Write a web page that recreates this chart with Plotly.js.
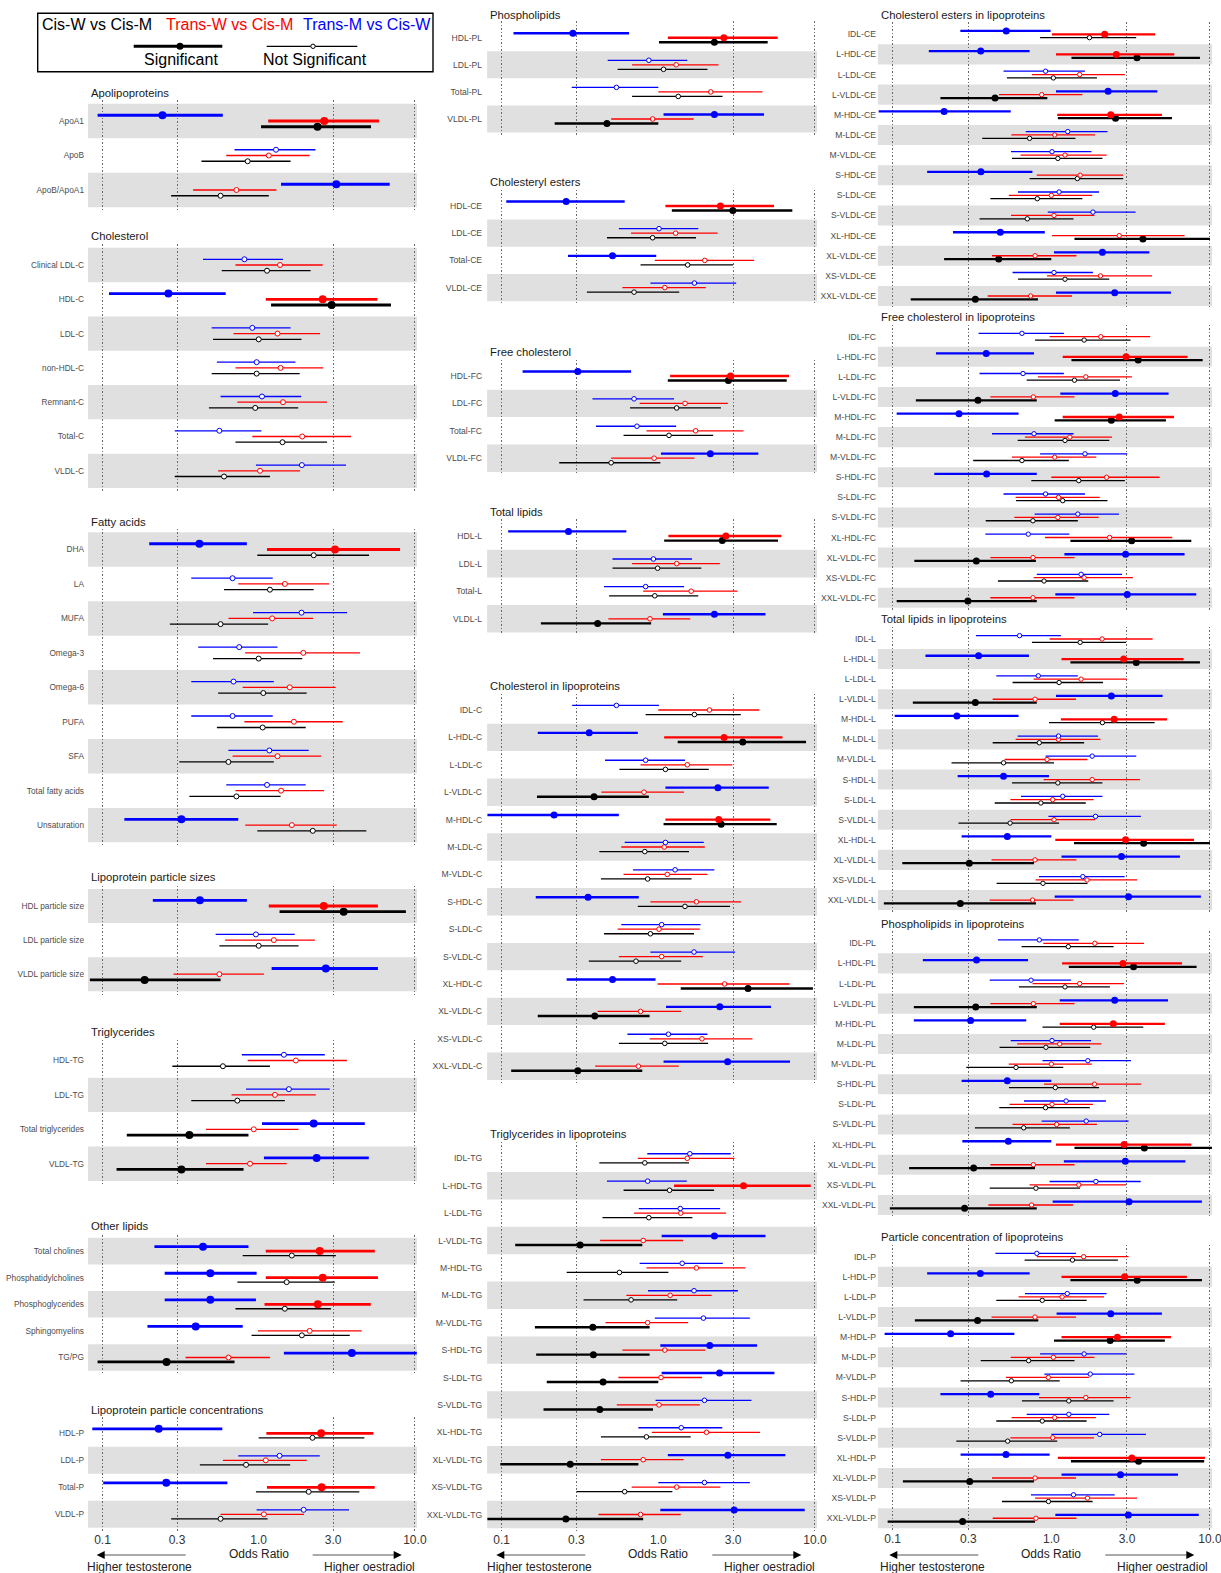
<!DOCTYPE html>
<html><head><meta charset="utf-8">
<script src="https://cdn.plot.ly/plotly-3.0.1.min.js"></script>
<style>html,body{margin:0;padding:0;background:#fff}#chart{width:1221px;height:1573px}</style>
</head><body><div id="chart"></div>
<script>
// ---- DATA: odds ratios as [estimate, lower CI, upper CI, significant (1/0)] ----
// CisW = Cis-W vs Cis-M (black), TransW = Trans-W vs Cis-M (red), TransM = Trans-M vs Cis-W (blue)
const apoLabels=["ApoA1","ApoB","ApoB/ApoA1"];
const apoCisW=[[2.38,1.035,5.24,1],[0.85,0.43,1.6,0],[0.57,0.275,1.16,0]];
const apoTransW=[[2.63,1.15,5.89,1],[1.16,0.62,2.12,0],[0.72,0.38,1.3,0]];
const apoTransM=[[0.242,0.093,0.589,1],[1.29,0.70,2.31,0],[3.14,1.39,6.9,1]];

const cholLabels=["Clinical LDL-C","HDL-C","LDL-C","non-HDL-C","Remnant-C","Total-C","VLDL-C"];
const cholCisW=[[1.13,0.58,2.15,0],[2.93,1.2,7.03,1],[1.0,0.51,1.88,0],[0.97,0.50,1.83,0],[0.95,0.48,1.79,0],[1.42,0.71,2.74,0],[0.60,0.29,1.18,0]];
const cholTransW=[[1.37,0.71,2.57,0],[2.57,1.11,5.75,1],[1.32,0.69,2.47,0],[1.38,0.71,2.59,0],[1.43,0.73,2.74,0],[1.9,0.91,3.9,0],[1.02,0.55,1.84,0]];
const cholTransM=[[0.81,0.44,1.43,0],[0.264,0.110,0.615,1],[0.91,0.50,1.6,0],[0.97,0.54,1.72,0],[1.05,0.57,1.87,0],[0.56,0.29,1.04,0],[1.89,0.96,3.62,0]];

const faLabels=["DHA","LA","MUFA","Omega-3","Omega-6","PUFA","SFA","Total fatty acids","Unsaturation"];
const faCisW=[[2.25,0.98,5.09,0],[1.18,0.60,2.25,0],[0.57,0.27,1.15,0],[1.0,0.51,1.9,0],[1.07,0.55,2.03,0],[1.06,0.54,2.0,0],[0.64,0.31,1.25,0],[0.72,0.36,1.38,0],[2.22,0.98,4.89,0]];
const faTransW=[[3.08,1.13,8.03,1],[1.47,0.74,2.83,0],[1.22,0.64,2.23,0],[1.93,0.82,4.45,0],[1.58,0.79,3.11,0],[1.68,0.81,3.45,0],[1.32,0.68,2.51,0],[1.39,0.71,2.62,0],[1.63,0.82,3.16,0]];
const faTransM=[[0.417,0.199,0.84,1],[0.68,0.37,1.23,0],[1.88,0.92,3.68,0],[0.75,0.41,1.32,0],[0.69,0.37,1.25,0],[0.68,0.37,1.23,0],[1.17,0.64,2.09,0],[1.13,0.62,2.0,0],[0.32,0.138,0.74,1]];

const sizeLabels=["HDL particle size","LDL particle size","VLDL particle size"];
const sizeCisW=[[3.5,1.36,8.76,1],[1.0,0.56,1.8,0],[0.186,0.083,0.57,1]];
const sizeTransW=[[2.61,1.16,5.8,1],[1.25,0.61,2.29,0],[0.56,0.285,1.08,0]];
const sizeTransM=[[0.42,0.21,0.84,1],[0.96,0.53,1.7,0],[2.69,1.21,5.8,1]];

const tgLabels=["HDL-TG","LDL-TG","Total triglycerides","VLDL-TG"];
const tgCisW=[[0.59,0.28,1.18,0],[0.73,0.37,1.47,0],[0.36,0.143,0.86,1],[0.32,0.123,0.80,1]];
const tgTransW=[[1.73,0.85,3.67,0],[1.27,0.67,2.32,0],[0.93,0.46,1.8,0],[0.88,0.46,1.51,0]];
const tgTransM=[[1.45,0.78,2.65,0],[1.56,0.83,2.85,0],[2.25,1.05,4.78,1],[2.35,1.08,5.07,1]];

const otherLabels=["Total cholines","Phosphatidylcholines","Phosphoglycerides","Sphingomyelins","TG/PG"];
const otherCisW=[[1.63,0.79,3.12,0],[1.51,0.73,3.07,0],[1.47,0.71,2.9,0],[1.89,0.90,3.83,0],[0.257,0.093,0.70,1]];
const otherTransW=[[2.46,1.11,5.54,1],[2.57,1.11,5.8,1],[2.39,1.09,5.22,1],[2.12,0.99,4.57,0],[0.64,0.34,1.18,0]];
const otherTransM=[[0.44,0.215,0.86,1],[0.49,0.25,0.97,1],[0.49,0.25,0.96,1],[0.395,0.194,0.79,1],[3.95,1.45,10.3,1]];

const concLabels=["HDL-P","LDL-P","Total-P","VLDL-P"];
const concCisW=[[2.21,1.0,4.75,0],[0.83,0.42,1.59,0],[2.09,0.96,4.41,0],[0.57,0.275,1.14,0]];
const concTransW=[[2.51,1.12,5.42,1],[1.11,0.59,2.03,0],[2.53,1.13,5.53,1],[1.08,0.57,1.95,0]];
const concTransM=[[0.229,0.086,0.585,1],[1.36,0.74,2.46,0],[0.256,0.101,0.63,1],[1.94,0.97,3.79,0]];

const plLabels=["HDL-PL","LDL-PL","Total-PL","VLDL-PL"];
const plCisW=[[2.28,1.01,4.99,1],[1.08,0.55,2.06,0],[1.34,0.68,2.57,0],[0.47,0.218,1.0,1]];
const plTransW=[[2.62,1.15,5.78,1],[1.30,0.68,2.42,0],[2.16,1.0,4.62,0],[0.92,0.50,1.68,0]];
const plTransM=[[0.285,0.119,0.65,1],[0.87,0.475,1.53,0],[0.54,0.28,1.0,0],[2.28,1.08,4.73,1]];

const ceLabels=["HDL-CE","LDL-CE","Total-CE","VLDL-CE"];
const ceCisW=[[2.99,1.22,7.17,1],[0.92,0.47,1.74,0],[1.54,0.77,3.0,0],[0.70,0.35,1.36,0]];
const ceTransW=[[2.49,1.11,5.48,1],[1.29,0.67,2.39,0],[1.98,0.95,4.09,0],[1.10,0.59,2.01,0]];
const ceTransM=[[0.258,0.107,0.61,1],[1.01,0.56,1.8,0],[0.51,0.265,0.97,1],[1.70,0.89,3.14,0]];

const fcLabels=["HDL-FC","LDL-FC","Total-FC","VLDL-FC"];
const fcCisW=[[2.8,1.15,6.6,1],[1.31,0.66,2.51,0],[1.17,0.60,2.24,0],[0.50,0.233,1.03,0]];
const fcTransW=[[2.89,1.19,6.83,1],[1.48,0.76,2.78,0],[1.73,0.84,3.5,0],[0.94,0.50,1.70,0]];
const fcTransM=[[0.306,0.136,0.67,1],[0.70,0.38,1.26,0],[0.73,0.40,1.30,0],[2.15,1.04,4.35,1]];

const tlLabels=["HDL-L","LDL-L","Total-L","VLDL-L"];
const tlCisW=[[2.56,1.09,5.81,1],[0.99,0.51,1.88,0],[0.95,0.485,1.8,0],[0.41,0.178,0.90,1]];
const tlTransW=[[2.70,1.16,6.1,1],[1.31,0.68,2.47,0],[1.62,0.80,3.2,0],[0.885,0.48,1.6,0]];
const tlTransM=[[0.267,0.110,0.625,1],[0.93,0.51,1.64,0],[0.83,0.45,1.46,0],[2.28,1.07,4.83,1]];

const clpLabels=["IDL-C","L-HDL-C","L-LDL-C","L-VLDL-C","M-HDL-C","M-LDL-C","M-VLDL-C","S-HDL-C","S-LDL-C","S-VLDL-C","XL-HDL-C","XL-VLDL-C","XS-VLDL-C","XXL-VLDL-C"];
const clpCisW=[[1.70,0.83,3.36,0],[3.46,1.33,8.77,1],[1.11,0.565,2.10,0],[0.389,0.168,0.87,1],[2.52,1.08,5.7,1],[0.82,0.42,1.57,0],[0.855,0.43,1.63,0],[1.48,0.74,2.87,0],[0.89,0.45,1.69,0],[0.72,0.36,1.40,0],[3.74,1.39,9.7,1],[0.393,0.17,0.88,1],[1.10,0.56,2.08,0],[0.306,0.115,0.79,1]];
const clpTransW=[[2.12,1.0,4.42,0],[2.63,1.09,6.2,1],[1.53,0.77,2.97,0],[0.81,0.433,1.46,0],[2.43,1.11,5.19,1],[1.09,0.58,1.98,0],[1.14,0.60,2.06,0],[1.75,0.89,3.38,0],[1.01,0.55,1.84,0],[1.05,0.56,1.92,0],[2.65,0.99,6.9,0],[0.77,0.41,1.40,0],[1.90,0.88,3.99,0],[0.746,0.395,1.35,0]];
const clpTransM=[[0.54,0.282,1.01,0],[0.362,0.170,0.74,1],[0.83,0.457,1.48,0],[2.4,1.11,5.07,1],[0.216,0.081,0.56,1],[1.11,0.61,1.95,0],[1.28,0.69,2.28,0],[0.356,0.165,0.75,1],[1.05,0.58,1.86,0],[1.69,0.89,3.09,0],[0.51,0.26,0.96,1],[2.47,1.12,5.24,1],[1.16,0.635,2.06,0],[2.77,1.08,6.93,1]];

const tglpLabels=["IDL-TG","L-HDL-TG","L-LDL-TG","L-VLDL-TG","M-HDL-TG","M-LDL-TG","M-VLDL-TG","S-HDL-TG","S-LDL-TG","S-VLDL-TG","XL-HDL-TG","XL-VLDL-TG","XS-VLDL-TG","XXL-VLDL-TG"];
const tglpCisW=[[0.82,0.42,1.57,0],[1.18,0.60,2.27,0],[0.87,0.44,1.65,0],[0.317,0.122,0.79,1],[0.565,0.26,1.16,0],[0.67,0.333,1.32,0],[0.382,0.163,0.88,1],[0.385,0.166,0.88,1],[0.444,0.194,1.0,1],[0.423,0.185,0.925,1],[0.84,0.43,1.61,0],[0.274,0.098,0.746,1],[0.61,0.30,1.23,0],[0.257,0.081,0.80,1]];
const tglpTransW=[[1.53,0.74,3.06,0],[3.5,1.26,9.4,1],[1.39,0.70,2.71,0],[0.80,0.425,1.44,0],[1.75,0.84,3.6,0],[1.19,0.625,2.19,0],[0.855,0.46,1.55,0],[1.10,0.59,2.0,0],[1.04,0.556,1.90,0],[1.01,0.543,1.84,0],[2.03,0.91,4.46,0],[0.80,0.43,1.45,0],[1.31,0.676,2.49,0],[0.77,0.415,1.39,0]];
const tglpTransM=[[1.59,0.85,2.9,0],[0.855,0.47,1.52,0],[1.38,0.75,2.48,0],[2.28,1.05,4.83,1],[1.42,0.76,2.58,0],[1.69,0.86,3.22,0],[1.94,0.95,3.84,0],[2.13,1.03,4.27,1],[2.46,1.05,5.51,1],[1.97,0.96,3.93,0],[1.40,0.746,2.56,0],[2.78,1.15,6.47,1],[1.97,1.0,3.84,0],[3.05,1.03,8.6,1]];

const celLabels=["IDL-CE","L-HDL-CE","L-LDL-CE","L-VLDL-CE","M-HDL-CE","M-LDL-CE","M-VLDL-CE","S-HDL-CE","S-LDL-CE","S-VLDL-CE","XL-HDL-CE","XL-VLDL-CE","XS-VLDL-CE","XXL-VLDL-CE"];
const celCisW=[[1.74,0.85,3.43,0],[3.47,1.34,8.65,1],[1.03,0.525,1.94,0],[0.442,0.20,0.944,1],[2.54,1.10,5.76,1],[0.73,0.367,1.42,0],[1.10,0.565,2.1,0],[1.46,0.73,2.84,0],[0.816,0.413,1.57,0],[0.706,0.353,1.38,0],[3.78,1.40,10.0,1],[0.466,0.211,1.0,1],[1.22,0.617,2.32,0],[0.332,0.13,0.824,1]];
const celTransW=[[2.17,1.01,4.52,1],[2.57,1.07,5.96,1],[1.51,0.755,2.91,0],[0.87,0.468,1.57,0],[2.37,1.09,4.98,1],[1.05,0.56,1.89,0],[1.22,0.64,2.23,0],[1.52,0.81,2.84,0],[1.0,0.54,1.81,0],[1.04,0.557,1.87,0],[2.68,1.01,6.92,0],[0.79,0.423,1.44,0],[2.04,0.94,4.31,0],[0.741,0.397,1.35,0]];
const celTransM=[[0.52,0.267,0.99,1],[0.359,0.169,0.73,1],[0.92,0.50,1.63,0],[2.28,1.07,4.66,1],[0.211,0.0816,0.555,1],[1.27,0.69,2.26,0],[1.01,0.557,1.79,0],[0.36,0.165,0.76,1],[1.12,0.617,2.0,0],[1.83,0.95,3.4,0],[0.477,0.24,0.91,1],[2.1,1.04,4.15,1],[1.04,0.57,1.83,0],[2.51,1.07,5.68,1]];

const fclLabels=["IDL-FC","L-HDL-FC","L-LDL-FC","L-VLDL-FC","M-HDL-FC","M-LDL-FC","M-VLDL-FC","S-HDL-FC","S-LDL-FC","S-VLDL-FC","XL-HDL-FC","XL-VLDL-FC","XS-VLDL-FC","XXL-VLDL-FC"];
const fclCisW=[[1.61,0.79,3.16,0],[3.53,1.34,9.0,1],[1.40,0.70,2.71,0],[0.345,0.14,0.81,1],[2.39,1.05,5.28,1],[1.22,0.614,2.32,0],[0.653,0.322,1.29,0],[1.49,0.748,2.91,0],[1.18,0.60,2.26,0],[0.766,0.386,1.47,0],[3.21,1.32,7.63,1],[0.337,0.137,0.80,1],[0.90,0.461,1.71,0],[0.298,0.106,0.81,1]];
const fclTransW=[[2.05,0.976,4.2,0],[2.96,1.18,7.23,1],[1.65,0.824,3.22,0],[0.77,0.413,1.40,0],[2.68,1.18,5.93,1],[1.31,0.682,2.41,0],[1.05,0.565,1.92,0],[2.23,1.0,4.82,0],[1.11,0.596,2.02,0],[1.10,0.585,1.99,0],[2.33,0.912,5.79,0],[0.766,0.413,1.40,0],[1.61,0.774,3.27,0],[0.766,0.413,1.40,0]];
const fclTransM=[[0.653,0.348,1.2,0],[0.389,0.1875,0.778,1],[0.663,0.353,1.2,0],[2.53,1.14,5.49,1],[0.262,0.106,0.622,1],[0.778,0.423,1.38,0],[1.63,0.85,3.01,0],[0.391,0.183,0.81,1],[0.92,0.50,1.63,0],[1.47,0.785,2.67,0],[0.716,0.384,1.30,0],[2.94,1.21,6.92,1],[1.54,0.81,2.79,0],[3.01,1.06,8.2,1]];

const tllLabels=["IDL-L","L-HDL-L","L-LDL-L","L-VLDL-L","M-HDL-L","M-LDL-L","M-VLDL-L","S-HDL-L","S-LDL-L","S-VLDL-L","XL-HDL-L","XL-VLDL-L","XS-VLDL-L","XXL-VLDL-L"];
const tllCisW=[[1.52,0.755,2.96,0],[3.43,1.32,8.65,1],[1.12,0.57,2.12,0],[0.332,0.134,0.81,1],[2.1,0.967,4.48,0],[0.84,0.427,1.61,0],[0.50,0.235,1.04,0],[1.10,0.565,2.1,0],[0.86,0.44,1.65,0],[0.55,0.26,1.12,0],[3.82,1.39,10.0,1],[0.304,0.115,0.778,1],[0.886,0.452,1.69,0],[0.267,0.088,0.80,1]];
const tllTransW=[[2.09,0.976,4.35,0],[2.86,1.16,6.82,1],[1.54,0.774,3.0,0],[0.79,0.427,1.43,0],[2.49,1.15,5.36,1],[1.11,0.596,2.04,0],[0.94,0.508,1.69,0],[1.81,0.895,3.62,0],[1.02,0.552,1.85,0],[1.04,0.554,1.89,0],[2.94,1.06,7.93,1],[0.789,0.42,1.44,0],[1.68,0.796,3.48,0],[0.762,0.409,1.38,0]];
const tllTransM=[[0.631,0.335,1.15,0],[0.348,0.161,0.723,1],[0.828,0.45,1.47,0],[2.39,1.07,5.03,1],[0.254,0.103,0.622,1],[1.11,0.614,1.97,0],[1.81,0.92,3.43,0],[0.50,0.257,0.967,1],[1.18,0.644,2.1,0],[1.90,0.96,3.67,0],[0.528,0.272,1.0,1],[2.77,1.16,6.47,1],[1.58,0.836,2.9,0],[3.07,1.05,8.77,1]];

const pllLabels=["IDL-PL","L-HDL-PL","L-LDL-PL","L-VLDL-PL","M-HDL-PL","M-LDL-PL","M-VLDL-PL","S-HDL-PL","S-LDL-PL","S-VLDL-PL","XL-HDL-PL","XL-VLDL-PL","XS-VLDL-PL","XXL-VLDL-PL"];
const pllCisW=[[1.28,0.65,2.47,0],[3.30,1.29,8.24,1],[1.22,0.625,2.34,0],[0.334,0.136,0.81,1],[1.85,0.88,3.8,0],[0.925,0.472,1.76,0],[0.599,0.291,1.19,0],[1.06,0.541,2.0,0],[0.92,0.47,1.75,0],[0.67,0.33,1.31,0],[3.86,1.40,10.3,1],[0.324,0.127,0.789,1],[0.80,0.409,1.52,0],[0.284,0.096,0.81,1]];
const pllTransW=[[1.88,0.89,3.84,0],[2.83,1.17,6.66,1],[1.51,0.762,2.87,0],[0.77,0.413,1.40,0],[2.46,1.13,5.2,1],[1.13,0.61,2.07,0],[1.0,0.54,1.80,0],[1.87,0.90,3.69,0],[1.01,0.546,1.83,0],[1.08,0.57,1.94,0],[2.88,1.07,7.63,1],[0.77,0.413,1.40,0],[1.49,0.73,2.96,0],[0.751,0.401,1.37,0]];
const pllTransM=[[0.84,0.461,1.49,0],[0.338,0.155,0.713,1],[0.745,0.409,1.33,0],[2.51,1.13,5.44,1],[0.31,0.136,0.695,1],[1.01,0.555,1.78,0],[1.70,0.88,3.18,0],[0.528,0.272,1.0,1],[1.24,0.673,2.21,0],[1.66,0.869,3.07,0],[0.536,0.275,1.0,1],[2.93,1.2,7.0,1],[1.91,0.976,3.66,0],[3.09,1.02,8.9,1]];

const pclLabels=["IDL-P","L-HDL-P","L-LDL-P","L-VLDL-P","M-HDL-P","M-LDL-P","M-VLDL-P","S-HDL-P","S-LDL-P","S-VLDL-P","XL-HDL-P","XL-VLDL-P","XS-VLDL-P","XXL-VLDL-P"];
const pclCisW=[[1.36,0.679,2.63,0],[3.48,1.32,8.9,1],[0.877,0.45,1.67,0],[0.343,0.138,0.828,1],[2.35,1.04,5.2,1],[0.72,0.359,1.40,0],[0.56,0.268,1.13,0],[1.29,0.653,2.47,0],[0.877,0.45,1.67,0],[0.531,0.252,1.09,0],[3.55,1.33,9.2,1],[0.306,0.116,0.778,1],[0.96,0.489,1.82,0],[0.276,0.093,0.789,1]];
const pclTransW=[[1.60,0.81,3.07,0],[2.9,1.16,7.16,1],[1.17,0.622,2.15,0],[0.789,0.42,1.43,0],[2.61,1.16,5.68,1],[1.03,0.555,1.87,0],[0.957,0.518,1.73,0],[1.65,0.836,3.15,0],[1.05,0.562,1.91,0],[1.02,0.552,1.86,0],[3.22,1.10,9.3,1],[0.79,0.423,1.43,0],[1.69,0.79,3.47,0],[0.80,0.427,1.44,0]];
const pclTransM=[[0.81,0.444,1.43,0],[0.357,0.165,0.73,1],[1.26,0.682,2.23,0],[2.37,1.08,4.98,1],[0.232,0.089,0.585,1],[1.61,0.85,2.96,0],[1.76,0.904,3.34,0],[0.415,0.20,0.84,1],[1.29,0.70,2.32,0],[2.02,1.0,3.95,0],[0.518,0.268,0.976,1],[2.73,1.16,6.29,1],[1.38,0.745,2.51,0],[3.06,1.06,8.5,1]];

const xTickVals=[0.1,0.3,1,3,10];
const xTickText=["0.1","0.3","1.0","3.0","10.0"];
const legendNames=["Cis-W vs Cis-M","Trans-W vs Cis-M","Trans-M vs Cis-W"];

// ---- LAYOUT (pixel geometry) ----
const W=1221,H=1573;
const FONT='"Liberation Sans", Arial, Helvetica, sans-serif';
const XR=[-1.093,1.013];
const cols=[
  {x0:88,   x1:416.9, lab:8.3, sd:3, ms:8, mn:5,   tk:2.8},
  {x0:487.1,x1:817,   lab:8.6, sd:4, ms:7, mn:4.6, tk:2.4},
  {x0:877.9,x1:1212,  lab:8.6, sd:1, ms:7, mn:4.4, tk:2.3}
];
const panels=[
  {t:"Apolipoproteins",L:apoLabels,k:apoCisW,r:apoTransW,b:apoTransM,col:0,c0:121,h:34.5,ty:92.7},
  {t:"Cholesterol",L:cholLabels,k:cholCisW,r:cholTransW,b:cholTransM,col:0,c0:265,h:34.3,ty:236},
  {t:"Fatty acids",L:faLabels,k:faCisW,r:faTransW,b:faTransM,col:0,c0:549.5,h:34.45,ty:521.5},
  {t:"Lipoprotein particle sizes",L:sizeLabels,k:sizeCisW,r:sizeTransW,b:sizeTransM,col:0,c0:906,h:34.1,ty:877},
  {t:"Triglycerides",L:tgLabels,k:tgCisW,r:tgTransW,b:tgTransM,col:0,c0:1060.5,h:34.4,ty:1032.4},
  {t:"Other lipids",L:otherLabels,k:otherCisW,r:otherTransW,b:otherTransM,col:0,c0:1251.1,h:26.6,ty:1226},
  {t:"Lipoprotein particle concentrations",L:concLabels,k:concCisW,r:concTransW,b:concTransM,col:0,c0:1433.3,h:27,ty:1410},
  {t:"Phospholipids",L:plLabels,k:plCisW,r:plTransW,b:plTransM,col:1,c0:37.7,h:27.1,ty:15},
  {t:"Cholesteryl esters",L:ceLabels,k:ceCisW,r:ceTransW,b:ceTransM,col:1,c0:206,h:27.2,ty:181.7},
  {t:"Free cholesterol",L:fcLabels,k:fcCisW,r:fcTransW,b:fcTransM,col:1,c0:376,h:27.4,ty:351.7},
  {t:"Total lipids",L:tlLabels,k:tlCisW,r:tlTransW,b:tlTransM,col:1,c0:536,h:27.6,ty:511.7},
  {t:"Cholesterol in lipoproteins",L:clpLabels,k:clpCisW,r:clpTransW,b:clpTransM,col:1,c0:710,h:27.4,ty:685.7},
  {t:"Triglycerides in lipoproteins",L:tglpLabels,k:tglpCisW,r:tglpTransW,b:tglpTransM,col:1,c0:1158.3,h:27.4,ty:1134.3},
  {t:"Cholesterol esters in lipoproteins",L:celLabels,k:celCisW,r:celTransW,b:celTransM,col:2,c0:34.3,h:20.13,ty:15},
  {t:"Free cholesterol in lipoproteins",L:fclLabels,k:fclCisW,r:fclTransW,b:fclTransM,col:2,c0:336.7,h:20.08,ty:316.7},
  {t:"Total lipids in lipoproteins",L:tllLabels,k:tllCisW,r:tllTransW,b:tllTransM,col:2,c0:639,h:20.08,ty:619.3},
  {t:"Phospholipids in lipoproteins",L:pllLabels,k:pllCisW,r:pllTransW,b:pllTransM,col:2,c0:943.3,h:20.13,ty:924},
  {t:"Particle concentration of lipoproteins",L:pclLabels,k:pclCisW,r:pclTransW,b:pclTransM,col:2,c0:1256.7,h:20.12,ty:1237}
];
const series=[{d:'k',color:'#000000',off:1/6},{d:'r',color:'#ff0000',off:0},{d:'b',color:'#0000ff',off:-1/6}];

const PX=x=>x/W, PY=y=>1-y/H;
const data=[],shapes=[],ann=[];
const layout={width:W,height:H,margin:{l:0,r:0,t:0,b:0},paper_bgcolor:'#fff',plot_bgcolor:'rgba(0,0,0,0)',
  font:{family:FONT,color:'#222'},showlegend:false,hovermode:false};

const lastInCol={};
panels.forEach((p,i)=>{lastInCol[p.col]=i;});

panels.forEach((p,i)=>{
  const k=i+1, s=(k===1?'':String(k));
  const xa='x'+s, ya='y'+s;
  const c=cols[p.col], n=p.L.length;
  const top=p.c0-0.6*p.h, bot=p.c0+(n-1)*p.h+0.6*p.h;
  const isBottom=lastInCol[p.col]===i;
  layout['xaxis'+s]={type:'log',range:XR,domain:[PX(c.x0),PX(c.x1)],anchor:ya,
    showgrid:false,zeroline:false,showline:false,ticks:'',tickmode:'array',tickvals:xTickVals,ticktext:xTickText,
    showticklabels:isBottom,ticklabeloverflow:'allow',tickfont:{size:12,color:'#333'},
    minor:{tickmode:'array',tickvals:[0.1,0.3,3,10],showgrid:true,gridcolor:'#6a6a6a',griddash:'1.5px,2px',gridwidth:1,ticks:''},
    fixedrange:true};
  layout['yaxis'+s]={domain:[PY(bot),PY(top)],anchor:xa,range:[n-1+0.6,-0.6],
    tickmode:'array',tickvals:p.L.map((_,j)=>j),ticktext:p.L,showgrid:false,zeroline:false,showline:false,ticks:'',
    tickfont:{size:c.lab,color:'#4d4d4d'},ticklabelstandoff:c.sd,fixedrange:true};
  // alternating bands (bottom row shaded)
  for(let j=0;j<n;j++){
    if((n-1-j)%2===0) shapes.push({type:'rect',xref:xa+' domain',x0:0,x1:1,yref:ya,y0:j-0.5,y1:j+0.5,
      fillcolor:'#e0e0e0',line:{width:0},layer:'below'});
  }
  // reference line at OR = 1 (log10(1) = 0)
  shapes.push({type:'line',xref:xa,x0:0,x1:0,yref:ya+' domain',y0:0,y1:1,line:{color:'#000',width:1.6},layer:'below'});
  // title
  ann.push({xref:'paper',yref:'paper',x:PX(c.x0+0.7),y:PY(p.ty),xanchor:'left',yanchor:'middle',showarrow:false,
    text:p.t,font:{size:11.3,color:'#1a1a1a'}});
  // traces
  series.forEach(se=>{
    const rows=p[se.d];
    [0,1].forEach(sig=>{
      const idx=rows.map((_,j)=>j).filter(j=>rows[j][3]===sig);
      if(!idx.length) return;
      data.push({type:'scatter',mode:'markers',xaxis:xa,yaxis:ya,
        x:idx.map(j=>rows[j][0]),y:idx.map(j=>j+se.off),
        error_x:{type:'data',symmetric:false,array:idx.map(j=>rows[j][2]-rows[j][0]),
          arrayminus:idx.map(j=>rows[j][0]-rows[j][1]),color:se.color,thickness:sig?c.tk:1.3,width:0},
        marker:sig?{size:c.ms,color:se.color,line:{width:0}}:{size:c.mn,color:'#ffffff',line:{color:se.color,width:1}},
        hoverinfo:'skip',showlegend:false});
    });
  });
});

// bottom axis annotations per column
cols.forEach(c=>{
  const one=c.x0+(0-XR[0])/(XR[1]-XR[0])*(c.x1-c.x0);
  ann.push({xref:'paper',yref:'paper',x:PX(one),y:PY(1553.5),xanchor:'center',yanchor:'middle',showarrow:false,
    text:'Odds Ratio',font:{size:12,color:'#222'}});
  ann.push({xref:'paper',yref:'paper',x:PX(one-119),y:PY(1566.5),xanchor:'center',yanchor:'middle',showarrow:false,
    text:'Higher testosterone',font:{size:12,color:'#222'}});
  ann.push({xref:'paper',yref:'paper',x:PX(one+111),y:PY(1566.5),xanchor:'center',yanchor:'middle',showarrow:false,
    text:'Higher oestradiol',font:{size:12,color:'#222'}});
  const ay=1555;
  shapes.push({type:'line',xref:'paper',yref:'paper',x0:PX(one-155),x1:PX(one-73),y0:PY(ay),y1:PY(ay),line:{color:'#555',width:1}});
  shapes.push({type:'path',xref:'paper',yref:'paper',
    path:`M${PX(one-162)},${PY(ay)} L${PX(one-154)},${PY(ay-4)} L${PX(one-154)},${PY(ay+4)} Z`,fillcolor:'#000',line:{width:0}});
  shapes.push({type:'line',xref:'paper',yref:'paper',x0:PX(one+54),x1:PX(one+136),y0:PY(ay),y1:PY(ay),line:{color:'#555',width:1}});
  shapes.push({type:'path',xref:'paper',yref:'paper',
    path:`M${PX(one+143)},${PY(ay)} L${PX(one+135)},${PY(ay-4)} L${PX(one+135)},${PY(ay+4)} Z`,fillcolor:'#000',line:{width:0}});
});

// legend box
shapes.push({type:'rect',xref:'paper',yref:'paper',x0:PX(37.7),x1:PX(433),y0:PY(71.7),y1:PY(13.3),line:{color:'#000',width:1.4},fillcolor:'rgba(0,0,0,0)'});
const legCols=['#000000','#ff0000','#0000ff'];
const legX=[41.7,165.7,302.7];
legendNames.forEach((nm,i)=>ann.push({xref:'paper',yref:'paper',x:PX(legX[i]-2),y:PY(24.5),xanchor:'left',yanchor:'middle',
  showarrow:false,text:nm,font:{size:16,color:legCols[i]}}));
shapes.push({type:'line',xref:'paper',yref:'paper',x0:PX(133.7),x1:PX(222.3),y0:PY(46.3),y1:PY(46.3),line:{color:'#000',width:3}});
shapes.push({type:'circle',xref:'paper',yref:'paper',x0:PX(176.5),x1:PX(183.5),y0:PY(49.8),y1:PY(42.8),fillcolor:'#000',line:{width:0}});
shapes.push({type:'line',xref:'paper',yref:'paper',x0:PX(266.7),x1:PX(357.3),y0:PY(46.3),y1:PY(46.3),line:{color:'#000',width:1.3}});
shapes.push({type:'circle',xref:'paper',yref:'paper',x0:PX(310.8),x1:PX(315.2),y0:PY(48.5),y1:PY(44.1),fillcolor:'#fff',line:{color:'#000',width:1}});
ann.push({xref:'paper',yref:'paper',x:PX(181),y:PY(59.5),xanchor:'center',yanchor:'middle',showarrow:false,text:'Significant',font:{size:16,color:'#000'}});
ann.push({xref:'paper',yref:'paper',x:PX(315),y:PY(59.5),xanchor:'center',yanchor:'middle',showarrow:false,text:'Not Significant',font:{size:16,color:'#000'}});

layout.shapes=shapes;
layout.annotations=ann;
Plotly.newPlot('chart',data,layout,{staticPlot:true,displayModeBar:false});
</script></body></html>
